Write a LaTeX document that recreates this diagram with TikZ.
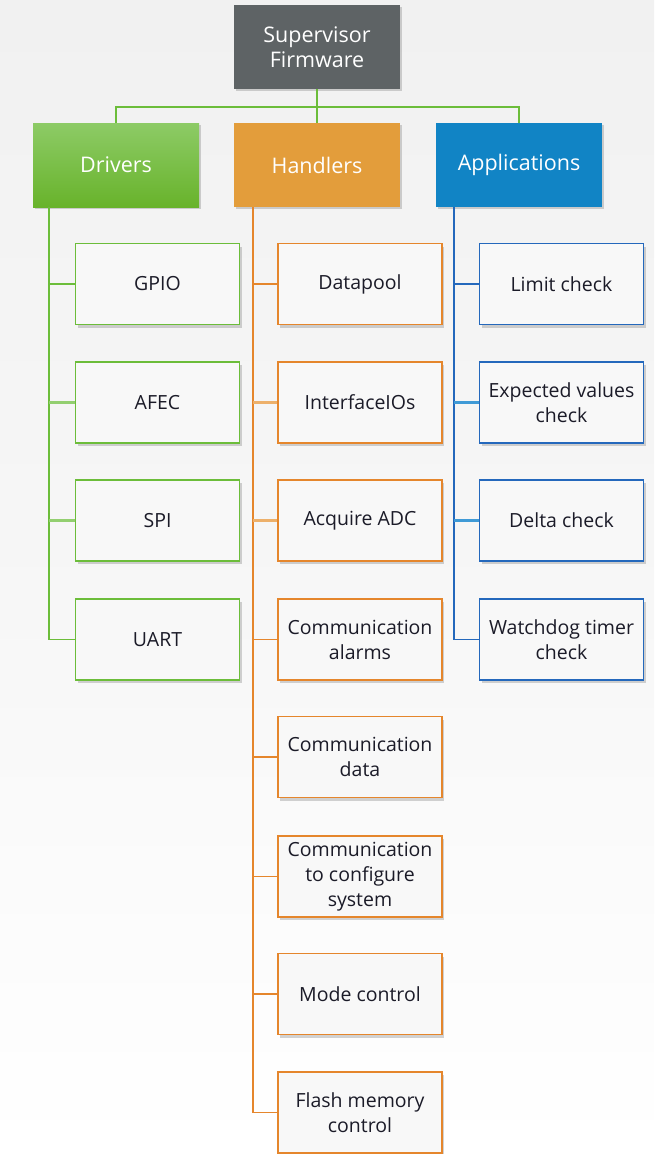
\documentclass[tikz,border=0pt]{standalone}
\usepackage{fontspec}
\setmainfont{Open Sans}
\usetikzlibrary{shadows,calc}
\definecolor{bgtop}{HTML}{F1F1F1}
\definecolor{supfill}{HTML}{5E6365}
\definecolor{drvtop}{HTML}{8DCB66}
\definecolor{drvbot}{HTML}{68B32B}
\definecolor{hdlfill}{HTML}{E39D3B}
\definecolor{appfill}{HTML}{1184C5}
\definecolor{gline}{HTML}{6CBD3A}
\definecolor{oline}{HTML}{E5862C}
\definecolor{bline}{HTML}{2468BC}
\definecolor{glight}{HTML}{93CF70}
\definecolor{olight}{HTML}{EDB06A}
\definecolor{blight}{HTML}{3F9AD6}
\definecolor{txt}{HTML}{1B1B28}
\definecolor{boxfill}{HTML}{F8F8F8}
\tikzset{
  head/.style={minimum width=166pt, minimum height=84pt, inner sep=2pt, text=white,
    font=\fontsize{21.5}{25}\selectfont, align=center,
    drop shadow={shadow xshift=2pt, shadow yshift=-2pt, opacity=0.35}},
  child/.style={draw, line width=1.7pt, fill=boxfill, minimum width=164pt, minimum height=81pt,
    inner sep=1pt, text=txt, font=\fontsize{19.5}{25}\selectfont, align=center,
    drop shadow={shadow xshift=2pt, shadow yshift=-3pt, opacity=0.35}},
  gbox/.style={child, draw=gline},
  obox/.style={child, draw=oline},
  bbox/.style={child, draw=bline},
  conn/.style={line width=1.7pt},
  lconn/.style={line width=2.2pt},
}
\begin{document}
\begin{tikzpicture}[x=1pt,y=-1pt]
\useasboundingbox (0,0) rectangle (654,1154);
\shade[top color=bgtop, bottom color=white, middle color=bgtop!60!white] (0,0) rectangle (654,1154);

\node[head, fill=supfill] (sup) at (317,47) {Supervisor\\Firmware};
\node[head, top color=drvtop, bottom color=drvbot] (drv) at (116,165) {Drivers};
\node[head, fill=hdlfill] (hdl) at (317,165) {Handlers};
\node[head, fill=appfill] (app) at (519,165) {Applications};

\coordinate (bus) at (317,107);
\draw[conn, gline] (sup.south) -- (bus);
\draw[conn, gline] (drv.north) |- (bus) -| (app.north);
\draw[conn, gline] (hdl.north) -- (hdl.north |- bus);

% drivers
\node[gbox] (gpio) at (157.5,284) {GPIO};
\node[gbox] (afec) at (157.5,402.5) {AFEC};
\node[gbox] (spi) at (157.5,520.5) {SPI};
\node[gbox] (uart) at (157.5,639.5) {UART};

% handlers
\node[obox] (dp) at (360,284) {Datapool};
\node[obox] (ifio) at (360,402.5) {InterfaceIOs};
\node[obox] (adc) at (360,520.5) {Acquire ADC};
\node[obox] (calarm) at (360,639.5) {Communication\\alarms};
\node[obox] (cdata) at (360,757) {Communication\\data};
\node[obox] (cconf) at (360,876.5) {Communication\\to configure\\system};
\node[obox] (mode) at (360,994) {Mode control};
\node[obox] (flash) at (360,1112.5) {Flash memory\\control};

% applications
\node[bbox] (lim) at (561.5,284) {Limit check};
\node[bbox] (exp) at (561.5,402.5) {Expected values\\check};
\node[bbox] (delta) at (561.5,520.5) {Delta check};
\node[bbox] (wdt) at (561.5,639.5) {Watchdog timer\\check};

% driver tree
\coordinate (gtop) at ($(drv.south west)+(16.5,0)$);
\draw[conn, gline] (gtop) |- (uart.west);
\draw[conn, gline] (gtop |- gpio.west) -- (gpio.west);
\draw[lconn, glight] (gtop |- afec.west) -- (afec.west);
\draw[lconn, glight] (gtop |- spi.west) -- (spi.west);

% handler tree
\coordinate (otop) at ($(hdl.south west)+(19,0)$);
\draw[conn, oline] (otop) |- (flash.west);
\draw[conn, oline] (otop |- dp.west) -- (dp.west);
\draw[lconn, olight] (otop |- ifio.west) -- (ifio.west);
\draw[lconn, olight] (otop |- adc.west) -- (adc.west);
\draw[conn, oline] (otop |- calarm.west) -- (calarm.west);
\draw[conn, oline] (otop |- cdata.west) -- (cdata.west);
\draw[conn, oline] (otop |- cconf.west) -- (cconf.west);
\draw[conn, oline] (otop |- mode.west) -- (mode.west);

% application tree
\coordinate (btop) at ($(app.south west)+(18,0)$);
\draw[conn, bline] (btop) |- (wdt.west);
\draw[conn, bline] (btop |- lim.west) -- (lim.west);
\draw[lconn, blight] (btop |- exp.west) -- (exp.west);
\draw[lconn, blight] (btop |- delta.west) -- (delta.west);
\end{tikzpicture}
\end{document}
